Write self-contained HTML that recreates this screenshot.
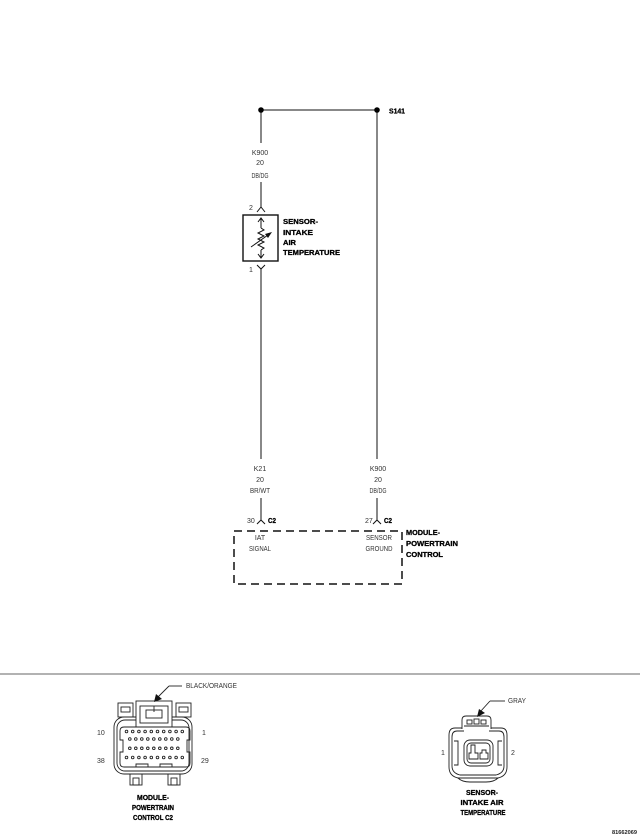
<!DOCTYPE html>
<html><head><meta charset="utf-8"><style>
html,body{margin:0;padding:0;background:#fff;}
svg{display:block;}
text{font-family:"Liberation Sans",Arial,sans-serif;}
.r{font-size:7px;fill:#333;}
.b{font-size:7.5px;font-weight:bold;fill:#000;stroke:#000;stroke-width:0.3;}
</style></head><body>
<svg width="640" height="838" viewBox="0 0 640 838" xmlns="http://www.w3.org/2000/svg">
<g stroke="#111" stroke-width="1" fill="none">
  <line x1="261" y1="110" x2="377" y2="110"/>
  <line x1="261" y1="110" x2="261" y2="143"/>
  <line x1="261" y1="182" x2="261" y2="207"/>
  <line x1="377" y1="110" x2="377" y2="459"/>
  <polyline points="257,212 261,207 265,212"/>
  <rect x="243" y="215" width="35" height="46" stroke-width="1.4"/>
  <polyline points="258,222 261,218 264,222"/>
  <polyline points="258,254 261,258 264,254"/>
  <line x1="261" y1="218" x2="261" y2="228"/>
  <polyline points="261,228 264,230 258,233 264,236 258,239 264,242 258,245 264,248 261,250"/>
  <line x1="261" y1="250" x2="261" y2="258"/>
  <line x1="251" y1="247" x2="268" y2="235"/>
  <polyline points="257,265 261,269 265,265"/>
  <line x1="261" y1="269" x2="261" y2="459"/>
  <line x1="261" y1="498" x2="261" y2="520"/>
  <line x1="377" y1="498" x2="377" y2="520"/>
  <polyline points="257,524 261,520 265,524"/>
  <polyline points="373,524 377,520 381,524"/>
  <rect x="234" y="531" width="168" height="53" stroke-width="1.5" stroke-dasharray="8 5"/>
</g>
<polygon points="272,232 265,234 268,238" fill="#111"/>
<circle cx="261" cy="110" r="2.8" fill="#000"/>
<circle cx="377" cy="110" r="2.8" fill="#000"/>

<text class="b" x="389" y="113.5" textLength="16" lengthAdjust="spacingAndGlyphs">S141</text>
<g class="r" text-anchor="middle">
  <text x="260" y="155">K900</text>
  <text x="260" y="165">20</text>
  <text x="260" y="178" textLength="17" lengthAdjust="spacingAndGlyphs">DB/DG</text>
  <text x="260" y="471">K21</text>
  <text x="260" y="482">20</text>
  <text x="260" y="493" textLength="20" lengthAdjust="spacingAndGlyphs">BR/WT</text>
  <text x="378" y="471">K900</text>
  <text x="378" y="482">20</text>
  <text x="378" y="493" textLength="17" lengthAdjust="spacingAndGlyphs">DB/DG</text>
  <text x="260" y="540">IAT</text>
  <text x="260" y="551" textLength="22" lengthAdjust="spacingAndGlyphs">SIGNAL</text>
  <text x="379" y="540" textLength="26" lengthAdjust="spacingAndGlyphs">SENSOR</text>
  <text x="379" y="551" textLength="27" lengthAdjust="spacingAndGlyphs">GROUND</text>
</g>
<g class="r">
  <text x="249" y="210">2</text>
  <text x="249" y="272">1</text>
  <text x="247" y="523">30</text>
  <text x="365" y="523">27</text>
</g>
<g class="b">
  <text x="268" y="523" textLength="8" lengthAdjust="spacingAndGlyphs">C2</text>
  <text x="384" y="523" textLength="8" lengthAdjust="spacingAndGlyphs">C2</text>
  <text x="283" y="224" textLength="35" lengthAdjust="spacingAndGlyphs">SENSOR-</text>
  <text x="283" y="235" textLength="30" lengthAdjust="spacingAndGlyphs">INTAKE</text>
  <text x="283" y="245" textLength="13" lengthAdjust="spacingAndGlyphs">AIR</text>
  <text x="283" y="255" textLength="57" lengthAdjust="spacingAndGlyphs">TEMPERATURE</text>
  <text x="406" y="535" textLength="34" lengthAdjust="spacingAndGlyphs">MODULE-</text>
  <text x="406" y="546" textLength="52" lengthAdjust="spacingAndGlyphs">POWERTRAIN</text>
  <text x="406" y="557" textLength="37" lengthAdjust="spacingAndGlyphs">CONTROL</text>
</g>

<line x1="0" y1="674" x2="640" y2="674" stroke="#999" stroke-width="1.5"/>

<g stroke="#222" stroke-width="0.9" fill="none">
  <line x1="182" y1="686" x2="169" y2="686"/>
  <line x1="169" y1="686" x2="158" y2="697"/>
  <rect x="114" y="717" width="78" height="57" rx="10"/>
  <rect x="117" y="720" width="72" height="51" rx="8"/>
  <rect x="118" y="703" width="15" height="14"/>
  <rect x="121" y="707" width="9" height="5"/>
  <rect x="176" y="703" width="15" height="14"/>
  <rect x="179" y="707" width="9" height="5"/>
  <rect x="136" y="701" width="36" height="26" fill="#fff"/>
  <rect x="140" y="706" width="28" height="17"/>
  <rect x="146" y="710" width="16" height="8"/>
  <line x1="154" y1="706" x2="154" y2="712"/>
  <path d="M124 727 L186 727 Q190 727 190 731 L190 740 L187 740 L187 752 L190 752 L190 763 Q190 767 186 767 L124 767 Q120 767 120 763 L120 752 L123 752 L123 740 L120 740 L120 731 Q120 727 124 727 Z"/>
  <polyline points="136,767 136,764 148,764 148,767"/>
  <polyline points="160,767 160,764 172,764 172,767"/>
  <rect x="130" y="774" width="12" height="11"/>
  <rect x="133" y="778" width="6" height="7"/>
  <rect x="168" y="774" width="12" height="11"/>
  <rect x="171" y="778" width="6" height="7"/>
</g>
<polygon points="154,702 156,694 162,699" fill="#111"/>
<g fill="none" stroke="#222" stroke-width="0.9">
  <g id="r1">
    <circle cx="126.5" cy="731.5" r="1.3"/><circle cx="132.7" cy="731.5" r="1.3"/><circle cx="138.9" cy="731.5" r="1.3"/><circle cx="145.1" cy="731.5" r="1.3"/><circle cx="151.3" cy="731.5" r="1.3"/><circle cx="157.5" cy="731.5" r="1.3"/><circle cx="163.7" cy="731.5" r="1.3"/><circle cx="169.9" cy="731.5" r="1.3"/><circle cx="176.1" cy="731.5" r="1.3"/><circle cx="182.3" cy="731.5" r="1.3"/>
  </g>
  <circle cx="129.8" cy="739" r="1.3"/><circle cx="135.8" cy="739" r="1.3"/><circle cx="141.8" cy="739" r="1.3"/><circle cx="147.8" cy="739" r="1.3"/><circle cx="153.8" cy="739" r="1.3"/><circle cx="159.8" cy="739" r="1.3"/><circle cx="165.8" cy="739" r="1.3"/><circle cx="171.8" cy="739" r="1.3"/><circle cx="177.8" cy="739" r="1.3"/>
  <circle cx="129.8" cy="748.3" r="1.3"/><circle cx="135.8" cy="748.3" r="1.3"/><circle cx="141.8" cy="748.3" r="1.3"/><circle cx="147.8" cy="748.3" r="1.3"/><circle cx="153.8" cy="748.3" r="1.3"/><circle cx="159.8" cy="748.3" r="1.3"/><circle cx="165.8" cy="748.3" r="1.3"/><circle cx="171.8" cy="748.3" r="1.3"/><circle cx="177.8" cy="748.3" r="1.3"/>
  <use href="#r1" transform="translate(0,26)"/>
</g>
<g class="r">
  <text x="97" y="735">10</text>
  <text x="202" y="735">1</text>
  <text x="97" y="763">38</text>
  <text x="201" y="763">29</text>
  <text x="186" y="688" textLength="51" lengthAdjust="spacingAndGlyphs">BLACK/ORANGE</text>
  <text x="508" y="703" textLength="18" lengthAdjust="spacingAndGlyphs">GRAY</text>
  <text x="441" y="755">1</text>
  <text x="511" y="755">2</text>
</g>
<g class="b" text-anchor="middle">
  <text x="153" y="800" textLength="32" lengthAdjust="spacingAndGlyphs">MODULE-</text>
  <text x="153" y="810" textLength="42" lengthAdjust="spacingAndGlyphs">POWERTRAIN</text>
  <text x="153" y="820" textLength="40" lengthAdjust="spacingAndGlyphs">CONTROL C2</text>
  <text x="482" y="795" textLength="32" lengthAdjust="spacingAndGlyphs">SENSOR-</text>
  <text x="482" y="805" textLength="43" lengthAdjust="spacingAndGlyphs">INTAKE AIR</text>
  <text x="483" y="815" textLength="45" lengthAdjust="spacingAndGlyphs">TEMPERATURE</text>
</g>

<g stroke="#222" stroke-width="0.9" fill="none">
  <line x1="505" y1="701" x2="490" y2="701"/>
  <line x1="490" y1="701" x2="480" y2="712"/>
  <path d="M462 729 L462 720 Q462 716 466 716 L487 716 Q491 716 491 720 L491 729"/>
  <rect x="467" y="720" width="5" height="4"/>
  <rect x="474" y="719" width="5" height="5"/>
  <rect x="481" y="720" width="5" height="4"/>
  <line x1="464" y1="726" x2="489" y2="726"/>
  <path d="M462 728 L455 728 Q449 728 449 735 L449 767 Q449 776 458 778 L498 778 Q507 776 507 767 L507 735 Q507 728 501 728 L491 728"/>
  <path d="M464 731 L457 731 Q452 731 452 737 L452 766 Q452 773 460 775 L496 775 Q504 773 504 766 L504 737 Q504 731 499 731 L489 731"/>
  <path d="M454 741 L458 741 L458 765 L454 765"/>
  <path d="M502 741 L498 741 L498 765 L502 765"/>
  <path d="M458 778 Q462 782 470 782 L486 782 Q494 782 498 778"/>
  <rect x="464" y="740" width="29" height="26" rx="6"/>
  <rect x="467" y="743" width="23" height="20" rx="4"/>
  <path d="M471 745 L475 745 L475 753 L478 753 L478 759 L469 759 L469 753 L471 753 Z"/>
  <path d="M482 750 L486 750 L486 753 L488 753 L488 759 L480 759 L480 753 L482 753 Z"/>
</g>
<polygon points="477,717 479,709 485,713" fill="#111"/>

<text x="637" y="834" text-anchor="end" font-size="5" font-weight="bold" fill="#222" textLength="25" lengthAdjust="spacingAndGlyphs">81662069</text>
</svg>
</body></html>
